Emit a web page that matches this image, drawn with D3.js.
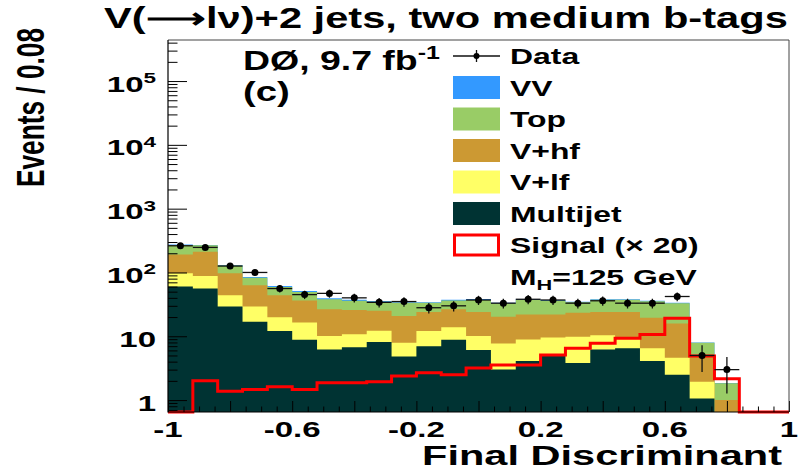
<!DOCTYPE html>
<html>
<head>
<meta charset="utf-8">
<script src="https://cdn.jsdelivr.net/npm/d3@7"></script>
<style>
  html, body { margin: 0; padding: 0; background: #fff; }
  svg { display: block; }
  text { font-family: "Liberation Sans", Arial, Helvetica, sans-serif; font-weight: bold; fill: #000; }
</style>
</head>
<body>
<svg id="chart" width="798" height="470"></svg>
<script>
// Bin edges of the final discriminant (25 bins of width 0.08)
const binEdges = [-1, -0.92, -0.84, -0.76, -0.68, -0.6, -0.52, -0.44, -0.36, -0.28, -0.2,
  -0.12, -0.04, 0.04, 0.12, 0.2, 0.28, 0.36, 0.44, 0.52, 0.6, 0.68, 0.76, 0.84, 0.92, 1];

// Background yields per bin
const multijet = [60, 56, 29.4, 16.9, 12.1, 8.8, 6.2, 6.7, 8.1, 4.8, 7.0, 8.8, 6.1, 3.0, 4.1,
  5.0, 3.8, 6.2, 6.5, 4.1, 2.5, 1.06, 0.2, 0, 0];
const vlf = [37, 32, 14.4, 12.5, 7.7, 7.7, 3.9, 4.1, 4.1, 3.1, 5.1, 5.1, 4.0, 4.7, 4.8,
  4.6, 6.0, 4.2, 3.1, 2.4, 2.1, 0.88, 0.15, 0, 0];
const vhf = [95, 123, 53, 33.4, 24, 20, 16.3, 14.9, 12.9, 12.8, 11.8, 12.5, 13.8, 12.5, 13.1,
  12.4, 13.6, 13.5, 14.3, 13.0, 11.3, 3.14, 0.65, 0, 0];
const topQuark = [78, 55, 32, 20, 15.2, 12.8, 11.5, 10.3, 9.7, 12.8, 9.6, 10.1, 13.1, 12.6, 14.9,
  13.9, 10.6, 13.3, 13.3, 15.8, 17.1, 2.8, 0.83, 0, 0];
const diboson = [4, 3, 2, 2, 2.2, 1.8, 1.4, 1.3, 0.8, 0.7, 0.7, 0.7, 1.3, 0.7, 1.0,
  1.0, 0.7, 0.7, 0.7, 0.7, 0.5, 0.1, 0.02, 0, 0];

// Observed events per bin
const dataCounts = [262, 247, 126, 100, 56, 45, 47, 40, 34, 35, 28, 30, 37, 33, 38,
  37, 33, 36, 33, 33, 42, 5, 3, 0, 0];

// Signal (MH = 125 GeV) scaled by 20
const signalX20 = [0, 2.0, 1.38, 1.47, 1.62, 1.47, 1.87, 1.87, 1.94, 2.38, 2.68, 2.49, 3.17, 3.54, 3.54,
  5.08, 6.46, 7.74, 9.27, 10.7, 19.1, 4.9, 2.16, 0, 0];

// Axis ticks and labels
const xMajorTicks = [-1, -0.8, -0.6, -0.4, -0.2, 0, 0.2, 0.4, 0.6, 0.8, 1];
const xLabelValues = [-1, -0.6, -0.2, 0.2, 0.6, 1];
const xLabelTexts = ["-1", "-0.6", "-0.2", "0.2", "0.6", "1"];
const yDecades = [1, 10, 100, 1e3, 1e4, 1e5];
const yDecadeExp = [0, 1, 2, 3, 4, 5];

// Legend entries (stack order, top to bottom)
const legendNames = ["VV", "Top", "V+hf", "V+lf", "Multijet"];
const legendColors = ["#3399ff", "#99cc66", "#cc9933", "#ffff66", "#003333"];

// ---- layout ----
const plot = { left: 168, right: 789, top: 40, bottom: 412 };
const yMin = 0.65, yMax = 4.4e5;

const svg = d3.select("#chart");
const x = d3.scaleLinear().domain([-1, 1]).range([plot.left, plot.right]);
const y = d3.scaleLog().domain([yMin, yMax]).range([plot.bottom, plot.top]).clamp(true);
const yv = v => y(Math.max(v, yMin));

// Text drawn in a group scaled horizontally
function stretchedText(parent, opt) {
  const g = parent.append("g");
  const t = g.append("text").attr("font-size", opt.size).attr("text-anchor", opt.anchor || "start");
  opt.build(t);
  let s = opt.sx || 1;
  if (opt.width) s = opt.width / t.node().getBBox().width;
  g.attr("transform", `translate(${opt.x},${opt.y}) scale(${s},1)`);
  return t;
}

// ---- stacked backgrounds (cumulative layers, painted from the tallest) ----
const layersBottomUp = [multijet, vlf, vhf, topQuark, diboson];
const colorsBottomUp = ["#003333", "#ffff66", "#cc9933", "#99cc66", "#3399ff"];
const cumulative = [];
let running = binEdges.slice(0, -1).map(() => 0);
layersBottomUp.forEach(arr => {
  running = running.map((v, i) => v + arr[i]);
  cumulative.push(running.slice());
});

function stepPoints(vals) {
  const pts = vals.map((v, i) => ({ e: binEdges[i], v }));
  pts.push({ e: binEdges[binEdges.length - 1], v: vals[vals.length - 1] });
  return pts;
}

const area = d3.area()
  .curve(d3.curveStepAfter)
  .x(d => x(d.e))
  .y0(plot.bottom)
  .y1(d => yv(d.v));

const gStack = svg.append("g");
for (let k = cumulative.length - 1; k >= 0; k--) {
  gStack.append("path")
    .attr("d", area(stepPoints(cumulative[k])))
    .attr("fill", colorsBottomUp[k]);
}

// ---- signal outline ----
const line = d3.line().curve(d3.curveStepAfter).x(d => x(d.e)).y(d => yv(d.v));
svg.append("path")
  .attr("d", line(stepPoints(signalX20)))
  .attr("fill", "none")
  .attr("stroke", "#ff0000")
  .attr("stroke-width", 3);

// ---- axes ticks ----
const yMinorTicks = [];
[0.1, 1, 10, 100, 1e3, 1e4, 1e5].forEach(d => {
  for (let k = 2; k <= 9; k++) {
    const v = k * d;
    if (v >= yMin && v <= yMax) yMinorTicks.push(v);
  }
});

const gAxes = svg.append("g");
gAxes.append("g")
  .attr("transform", `translate(${plot.left},0)`)
  .call(d3.axisLeft(y).tickValues(yDecades).tickSize(-19).tickFormat(""))
  .call(g => g.select(".domain").remove());
gAxes.append("g")
  .attr("transform", `translate(${plot.left},0)`)
  .call(d3.axisLeft(y).tickValues(yMinorTicks).tickSize(-9.5).tickFormat(""))
  .call(g => g.select(".domain").remove());

const xMinorTicks = d3.range(-0.95, 1.0, 0.05).map(v => +v.toFixed(2))
  .filter(v => !xMajorTicks.some(m => Math.abs(m - v) < 1e-6));
gAxes.append("g")
  .attr("transform", `translate(0,${plot.bottom})`)
  .call(d3.axisBottom(x).tickValues(xMajorTicks).tickSize(-11).tickFormat(""))
  .call(g => g.select(".domain").remove());
gAxes.append("g")
  .attr("transform", `translate(0,${plot.bottom})`)
  .call(d3.axisBottom(x).tickValues(xMinorTicks).tickSize(-5.5).tickFormat(""))
  .call(g => g.select(".domain").remove());
gAxes.selectAll(".tick line").attr("stroke", "#000").attr("stroke-width", 1);

// frame
svg.append("path")
  .attr("d", `M${plot.left},${plot.top}H${plot.right}V${plot.bottom}`)
  .attr("fill", "none").attr("stroke", "#444").attr("stroke-width", 1);
svg.append("path")
  .attr("d", `M${plot.left},${plot.top}V${plot.bottom}H${plot.right}`)
  .attr("fill", "none").attr("stroke", "#000").attr("stroke-width", 1.2);

// ---- data points ----
const gData = svg.append("g");
dataCounts.forEach((n, i) => {
  if (n <= 0) return;
  const cx = x((binEdges[i] + binEdges[i + 1]) / 2);
  const err = Math.sqrt(n);
  gData.append("line")
    .attr("x1", x(binEdges[i])).attr("x2", x(binEdges[i + 1]))
    .attr("y1", y(n)).attr("y2", y(n))
    .attr("stroke", "#111").attr("stroke-width", 1.3);
  gData.append("line")
    .attr("x1", cx).attr("x2", cx)
    .attr("y1", yv(n + err)).attr("y2", yv(n - err))
    .attr("stroke", "#111").attr("stroke-width", 1.3);
  gData.append("circle")
    .attr("cx", cx).attr("cy", y(n)).attr("r", 3.5).attr("fill", "#000");
});

// ---- tick labels ----
xLabelValues.forEach((v, i) => {
  stretchedText(svg, {
    x: x(v), y: 437, size: 22, anchor: "middle", sx: 1.5,
    build: t => t.text(xLabelTexts[i])
  });
});
yDecades.forEach((v, i) => {
  stretchedText(svg, {
    x: 156, y: y(v) + 10.5, size: 22, anchor: "end", sx: 1.5,
    build: t => {
      if (yDecadeExp[i] === 0) t.text("1");
      else if (yDecadeExp[i] === 1) t.text("10");
      else {
        t.append("tspan").text("10");
        t.append("tspan").attr("font-size", 15).attr("dy", -8.5).text(String(yDecadeExp[i]));
      }
    }
  });
});

// ---- titles ----
stretchedText(svg, {
  x: 104, y: 28, size: 29, width: 684,
  build: t => t.text("V(\u27F6l\u03BD)+2 jets, two medium b-tags")
});
stretchedText(svg, {
  x: 782, y: 465, size: 28, anchor: "end", width: 360,
  build: t => t.text("Final Discriminant")
});
svg.append("g")
  .attr("transform", "translate(44,187) scale(1.55,1) rotate(-90)")
  .append("text")
  .attr("font-size", 25)
  .attr("textLength", 159)
  .attr("lengthAdjust", "spacingAndGlyphs")
  .text("Events / 0.08");

// ---- experiment label ----
stretchedText(svg, {
  x: 243, y: 70, size: 27, width: 197,
  build: t => {
    t.append("tspan").text("D\u00D8, 9.7 fb");
    t.append("tspan").attr("font-size", 18).attr("dy", -11).text("-1");
  }
});
stretchedText(svg, {
  x: 243, y: 101, size: 27, sx: 1.42,
  build: t => t.text("(c)")
});

// ---- legend ----
const legX = 453, legW = 47, legH = 23, legTextX = 510;
const rowY = i => 56 + 31.5 * i;
const gLeg = svg.append("g");

// data entry
gLeg.append("line").attr("x1", legX).attr("x2", legX + legW).attr("y1", rowY(0)).attr("y2", rowY(0))
  .attr("stroke", "#111").attr("stroke-width", 1.3);
gLeg.append("line").attr("x1", legX + legW / 2).attr("x2", legX + legW / 2)
  .attr("y1", rowY(0) - 6).attr("y2", rowY(0) + 6).attr("stroke", "#111").attr("stroke-width", 1.3);
gLeg.append("circle").attr("cx", legX + legW / 2).attr("cy", rowY(0)).attr("r", 3).attr("fill", "#000");
stretchedText(gLeg, { x: legTextX, y: rowY(0) + 8, size: 22, sx: 1.45, build: t => t.text("Data") });

legendNames.forEach((name, i) => {
  const r = i + 1;
  gLeg.append("rect")
    .attr("x", legX).attr("y", rowY(r) - legH / 2)
    .attr("width", legW).attr("height", legH)
    .attr("fill", legendColors[i]);
  stretchedText(gLeg, { x: legTextX, y: rowY(r) + 8, size: 22, sx: 1.45, build: t => t.text(name) });
});

// signal entry
gLeg.append("rect")
  .attr("x", legX + 1.5).attr("y", rowY(6) - legH / 2 + 1.5)
  .attr("width", legW - 3).attr("height", legH - 3)
  .attr("fill", "#fff").attr("stroke", "#ff0000").attr("stroke-width", 3);
stretchedText(gLeg, { x: legTextX, y: rowY(6) + 8, size: 22, sx: 1.45, build: t => t.text("Signal (\u00D7 20)") });
stretchedText(gLeg, {
  x: legTextX, y: rowY(7) + 8, size: 22, sx: 1.45,
  build: t => {
    t.append("tspan").text("M");
    t.append("tspan").attr("font-size", 15).attr("dy", 5).text("H");
    t.append("tspan").attr("dy", -5).text("=125 GeV");
  }
});
</script>
</body>
</html>
